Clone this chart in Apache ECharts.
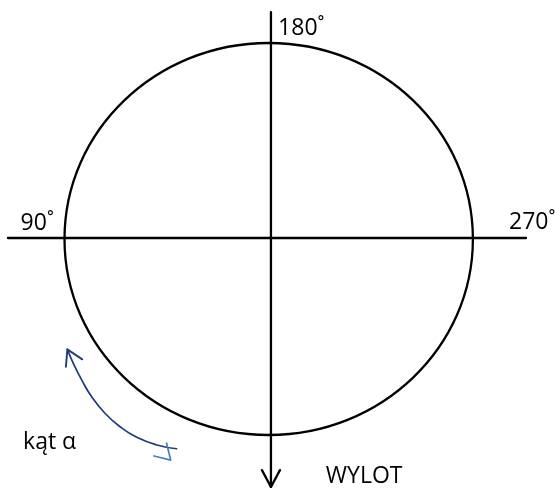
<!DOCTYPE html>
<html>
<head>
<meta charset="utf-8">
<script src="https://cdn.jsdelivr.net/npm/echarts@6/dist/echarts.min.js"></script>
<style>
html,body{margin:0;padding:0;background:#fff;}
#chart{width:555px;height:488px;}
</style>
</head>
<body>
<div id="chart"></div>
<script>
// Coordinate frame: ellipse centre = (0,0), ellipse radius = 1 on both axes
const xRange = [-1.3159, 1.4021];
const yRange = [-1.2704, 1.2194];
const ellipseData = [[0, 0, 1, 1]];               // cx, cy, rx, ry
const horizontalAxis = [[-1.277, 0.005], [1.26, 0.005]];
const verticalAxis = [[0.011, 1.158], [0.011, -1.265]];
const exitArrowHead = [[-0.033, -1.179], [0.011, -1.265], [0.055, -1.179]];
const angleArc = [[-0.986, -0.563], [-0.957, -0.634], [-0.916, -0.719], [-0.867, -0.805], [-0.802, -0.889], [-0.728, -0.958], [-0.646, -1.012], [-0.548, -1.051], [-0.451, -1.070]];
const angleArrowHead = [[-0.913, -0.614], [-0.986, -0.563], [-0.993, -0.652]];
const angleHook = [[-0.500, -1.042], [-0.480, -1.128], [-0.562, -1.107]];
const labels = [
  [0.046, 1.074, '180˚'],
  [-1.215, 0.079, '90˚'],
  [1.177, 0.082, '270˚'],
  [0.280, -1.212, 'WYLOT'],
  [-1.203, -1.036, 'kąt α']
];

const FONT = '"Open Sans", "Liberation Sans", sans-serif';
const chart = echarts.init(document.getElementById('chart'), null, {renderer: 'canvas'});

function lineSeries(data, color, width, smooth) {
  return {
    type: 'line', data: data, symbol: 'none', clip: false, silent: true,
    smooth: smooth || false, animation: false,
    lineStyle: {color: color, width: width, cap: 'round', join: 'round'}
  };
}

chart.setOption({
  backgroundColor: '#ffffff',
  animation: false,
  grid: {left: 0, right: 0, top: 0, bottom: 0},
  xAxis: {type: 'value', min: xRange[0], max: xRange[1], show: false},
  yAxis: {type: 'value', min: yRange[0], max: yRange[1], show: false},
  series: [
    {
      type: 'custom', data: ellipseData, clip: false, silent: true,
      encode: {x: 0, y: 1},
      renderItem: function (params, api) {
        const c = api.coord([api.value(0), api.value(1)]);
        const s = api.size([api.value(2), api.value(3)]);
        return {
          type: 'ellipse',
          shape: {cx: c[0], cy: c[1], rx: s[0], ry: s[1]},
          style: {fill: 'none', stroke: '#000', lineWidth: 2.3}
        };
      }
    },
    lineSeries(horizontalAxis, '#000', 2.3),
    lineSeries(verticalAxis, '#000', 2.3),
    lineSeries(exitArrowHead, '#000', 2.3),
    lineSeries(angleArc, '#1f3b7c', 1.7, 0.5),
    lineSeries(angleArrowHead, '#1f3b7c', 1.9),
    lineSeries(angleHook, '#4a7ebf', 1.7),
    {
      type: 'custom', data: labels, clip: false, silent: true,
      encode: {x: 0, y: 1},
      renderItem: function (params, api) {
        const c = api.coord([api.value(0), api.value(1)]);
        return {
          type: 'text',
          x: c[0], y: c[1],
          style: {
            text: labels[params.dataIndex][2],
            fontSize: 23, fontFamily: FONT, fill: '#000',
            align: 'left', verticalAlign: 'middle'
          }
        };
      }
    }
  ]
});
</script>
</body>
</html>
